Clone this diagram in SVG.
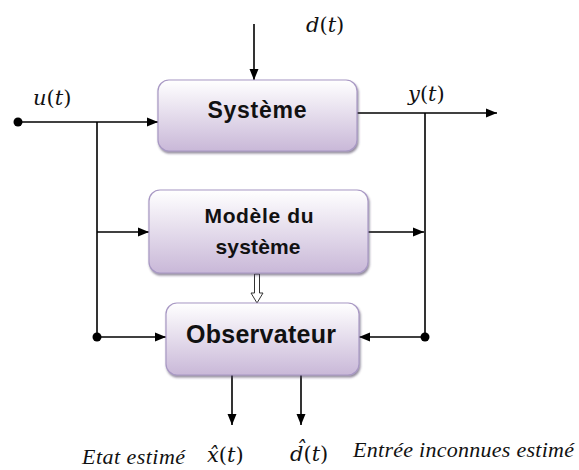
<svg xmlns="http://www.w3.org/2000/svg" width="579" height="470" viewBox="0 0 579 470">
<style>
.box{stroke:#a898c4;stroke-width:1.2;fill:url(#g)}
.bt{font-family:"Liberation Sans",Arial,sans-serif;font-weight:bold;fill:#111;text-anchor:middle}
.ln{stroke:#000;stroke-width:1.6;fill:none}
.ar{stroke:#000;stroke-width:1.6;fill:none;marker-end:url(#ah)}
.m{font-family:"DejaVu Serif","Liberation Serif",serif;font-size:21px;fill:#111}
.it{font-style:italic}
.lb{font-family:"Liberation Serif","Times New Roman",serif;font-style:italic;font-size:22px;fill:#111}
</style>
<defs>
<linearGradient id="g" x1="0" y1="0" x2="0" y2="1">
<stop offset="0" stop-color="#ffffff"/>
<stop offset="1" stop-color="#c9b8d8"/>
</linearGradient>
<filter id="sh" x="-10%" y="-10%" width="120%" height="130%">
<feDropShadow dx="1" dy="2" stdDeviation="1.2" flood-color="#4a3a5a" flood-opacity="0.6"/>
</filter>
<marker id="ah" markerWidth="12" markerHeight="10" refX="11" refY="5" orient="auto" markerUnits="userSpaceOnUse">
<path d="M0,0.5 L11,5 L0,9.5 Z" fill="#000"/>
</marker>
</defs>

<g id="connectors">
<line class="ar" x1="254" y1="24" x2="254" y2="80"/>
<line class="ar" x1="18" y1="122" x2="158" y2="122"/>
<line class="ln" x1="97" y1="122" x2="97" y2="337"/>
<line class="ar" x1="97" y1="232" x2="149" y2="232"/>
<line class="ar" x1="97" y1="337" x2="166" y2="337"/>
<circle cx="18" cy="122" r="4.5" fill="#000"/>
<circle cx="97" cy="337" r="4.5" fill="#000"/>
<line class="ar" x1="357" y1="113" x2="497" y2="113"/>
<line class="ln" x1="425" y1="113" x2="425" y2="337"/>
<line class="ar" x1="368" y1="232" x2="424" y2="232"/>
<line class="ar" x1="425" y1="337" x2="359" y2="337"/>
<circle cx="425" cy="337" r="4.5" fill="#000"/>
<polygon points="254.5,274 259.5,274 259.5,293 263,293 257,303 251,293 254.5,293" fill="#fff" stroke="#333" stroke-width="1"/>
<line class="ar" x1="232" y1="375" x2="232" y2="425"/>
<line class="ar" x1="301" y1="375" x2="301" y2="425"/>
</g>

<g id="systeme">
<rect class="box" x="158" y="80" width="199" height="71" rx="11" filter="url(#sh)"/>
<text class="bt" x="257" y="118" font-size="23" textLength="99">Système</text>
</g>

<g id="modele">
<rect class="box" x="149" y="190" width="219" height="83" rx="11" filter="url(#sh)"/>
<text class="bt" x="259" y="223" font-size="21" textLength="109">Modèle du</text>
<text class="bt" x="258" y="254" font-size="21" textLength="85">système</text>
</g>

<g id="observateur">
<rect class="box" x="166" y="303" width="193" height="72" rx="11" filter="url(#sh)"/>
<text class="bt" x="261" y="343" font-size="25" textLength="150">Observateur</text>
</g>

<g id="labels">
<text class="m" x="33" y="105"><tspan class="it">u</tspan>(<tspan class="it">t</tspan>)</text>
<text class="m" x="306" y="32"><tspan class="it">d</tspan>(<tspan class="it">t</tspan>)</text>
<text class="m" x="408" y="101"><tspan class="it">y</tspan>(<tspan class="it">t</tspan>)</text>
<text class="m" x="207" y="462"><tspan class="it">x̂</tspan>(<tspan class="it">t</tspan>)</text>
<text class="m" x="290" y="461"><tspan class="it">d̂</tspan>(<tspan class="it">t</tspan>)</text>
<text class="lb" x="82" y="464" textLength="103">Etat estimé</text>
<text class="lb" x="353" y="457" textLength="221">Entrée inconnues estimé</text>
</g>
</svg>
